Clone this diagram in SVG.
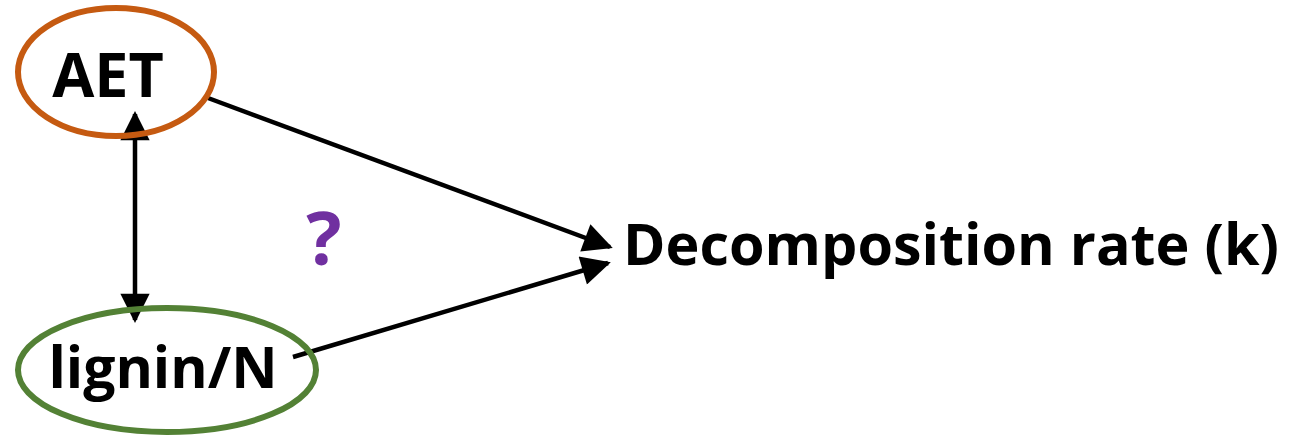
<svg xmlns="http://www.w3.org/2000/svg" width="1289" height="436" viewBox="0 0 1289 436">
<style>
.lbl{font-family:"Open Sans","Liberation Sans",sans-serif;font-weight:bold;fill:#000}
.edge{stroke:#000;stroke-width:4.5;fill:none}
</style>
<defs>
<marker id="ah" viewBox="0 0 10 10" refX="9" refY="5" markerWidth="7.5" markerHeight="6.5" markerUnits="strokeWidth" orient="auto-start-reverse">
<path d="M0,0 L10,5 L0,10 Z" fill="#000"/>
</marker>
</defs>
<rect width="1289" height="436" fill="#fff"/>
<g id="connectors">
<line class="edge" x1="208" y1="98" x2="610" y2="247" marker-end="url(#ah)"/>
<line class="edge" x1="293" y1="357" x2="608" y2="263" marker-end="url(#ah)"/>
<line class="edge" x1="135" y1="114" x2="135" y2="320" marker-start="url(#ah)" marker-end="url(#ah)"/>
</g>
<g id="node-aet">
<ellipse cx="116" cy="72" rx="98" ry="64" fill="none" stroke="#C55A11" stroke-width="6"/>
<text class="lbl" x="108" y="97" font-size="61" text-anchor="middle">AET</text>
</g>
<g id="node-lignin">
<ellipse cx="167" cy="370" rx="149" ry="62" fill="none" stroke="#538135" stroke-width="6"/>
<text class="lbl" x="163" y="388" font-size="57" text-anchor="middle">lignin/N</text>
</g>
<g id="node-decomp">
<text class="lbl" x="623" y="265" font-size="57" textLength="656" lengthAdjust="spacingAndGlyphs">Decomposition rate (k)</text>
</g>
<g id="question">
<text x="324" y="265" font-family="Open Sans, Liberation Sans, sans-serif" font-weight="bold" font-size="74" fill="#7030A0" text-anchor="middle">?</text>
</g>
</svg>
